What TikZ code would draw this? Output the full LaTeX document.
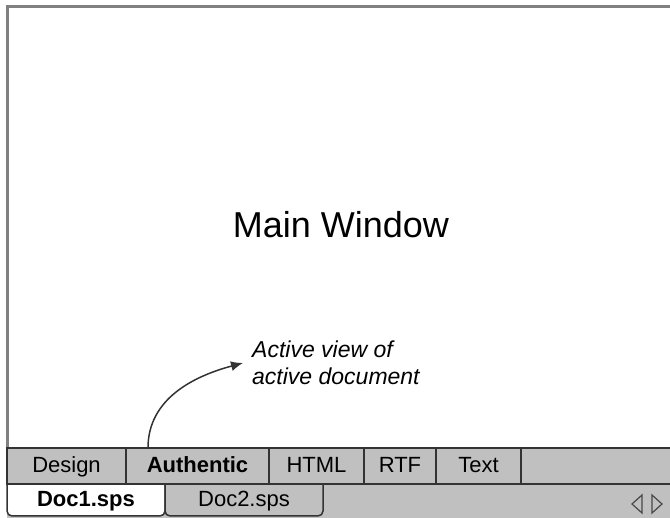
\documentclass[tikz,border=0pt]{standalone}
\usepackage{fontspec}
\setmainfont{Liberation Sans}
\usetikzlibrary{arrows.meta,positioning,calc}
\definecolor{barfill}{HTML}{C0C0C0}
\definecolor{tabdark}{HTML}{333333}
\definecolor{framegray}{HTML}{808080}
\tikzset{
    viewtab/.style={draw=tabdark, line width=2pt, fill=barfill, minimum height=36pt, inner sep=0pt, outer sep=0pt, text height=17pt, text depth=4pt, font=\fontsize{22}{26}\selectfont},
    doctab/.style={minimum height=32pt, inner sep=0pt, outer sep=0pt, text height=18pt, text depth=4pt, font=\fontsize{22}{26}\selectfont},
    tabedge/.style={draw=tabdark, line width=1.5pt, rounded corners=5pt},
    pointer/.style={-{Latex[length=12pt, width=10pt]}, line width=1.5pt, tabdark},
    note/.style={align=left, inner xsep=9pt, inner ysep=0pt, font=\itshape\fontsize{23}{27.3}\selectfont},
    scrollmark/.style={draw=tabdark!90, line width=1.2pt, line join=miter}
}

\begin{document}
\begin{tikzpicture}[x=1pt, y=1pt]
    \useasboundingbox (0,0) rectangle (670,518);
    \fill[white] (0,0) rectangle (670,518);

    % main window
    \draw[framegray, line width=3pt] (670,511) -- (7,511) -- (7,70);
    \node[font=\fontsize{36}{40}\selectfont, anchor=base] (mainwin) at (341,280) {Main Window};

    % view tabs
    \fill[barfill] (7,0) rectangle (670,70);
    \node[viewtab, minimum width=119pt, anchor=north west] (design) at (7,70) {Design};
    \node[viewtab, minimum width=143pt, right=0pt of design, font=\bfseries\fontsize{22}{26}\selectfont] (authentic) {Authentic};
    \node[viewtab, minimum width=95pt, right=0pt of authentic] (html) {HTML};
    \node[viewtab, minimum width=72pt, right=0pt of html] (rtf) {RTF};
    \node[viewtab, minimum width=85pt, right=0pt of rtf] (text) {Text};
    \draw[tabdark, line width=2pt] (text.north east) -- (670,70);

    % document tabs
    \node[doctab, minimum width=158pt, anchor=north west] (doc1) at (7,34) {};
    \node[doctab, minimum width=158pt, right=0pt of doc1] (doc2) {};
    \filldraw[tabedge, fill=white] (doc1.north west) -- (doc1.south west) -- (doc1.south east) -- (doc1.north east);
    \filldraw[tabedge, fill=barfill] (doc2.north west) -- (doc2.south west) -- (doc2.south east) -- (doc2.north east);
    \node[doctab, font=\bfseries\fontsize{22}{26}\selectfont] at (doc1.center) {Doc1.sps};
    \node[doctab] at (doc2.center) {Doc2.sps};
    \draw[tabdark, line width=2.5pt] (7,34) -- (670,34);

    % scroll arrows
    \draw[scrollmark] (642,5) -- (632,14) -- (642,23) -- cycle;
    \draw[scrollmark] (652,5) -- (662,14) -- (652,23) -- cycle;

    % annotation
    \node[note, anchor=west] (note) at (243,155) {Active view of\\active document};
    \coordinate (foot) at (148,70);
    \draw[pointer] (foot) to[out=90, in=195] (note.west);
\end{tikzpicture}
\end{document}
